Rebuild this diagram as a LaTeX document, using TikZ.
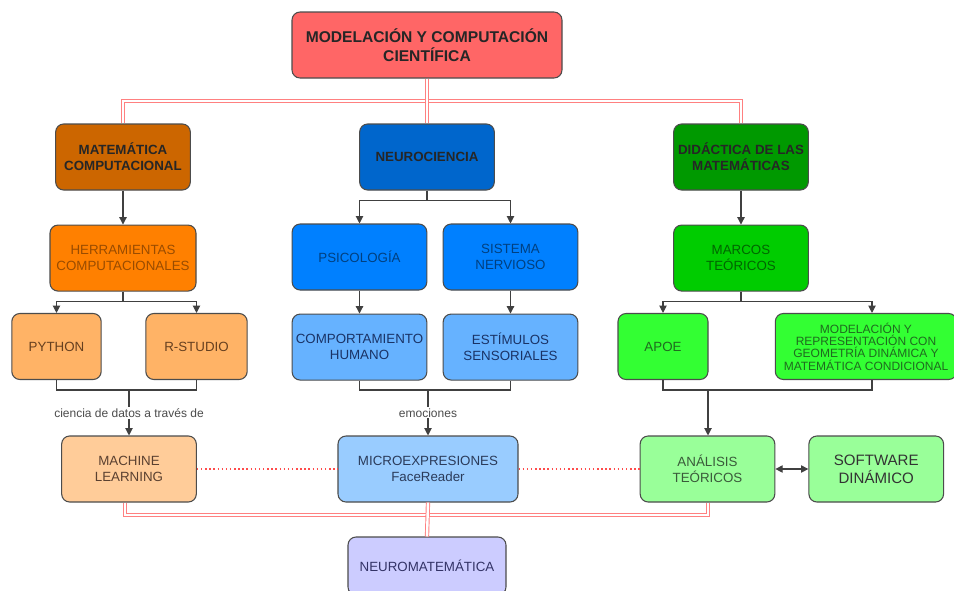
\documentclass[tikz,border=0pt]{standalone}
\usepackage{fontspec}
\setmainfont{Liberation Sans}
\usetikzlibrary{arrows.meta,calc}
\usetikzlibrary{positioning}

\definecolor{cTop}{HTML}{FF6666}
\definecolor{cMat}{HTML}{CC6600}
\definecolor{cNeu}{HTML}{0066CC}
\definecolor{cDid}{HTML}{009900}
\definecolor{cHer}{HTML}{FF8000}
\definecolor{cPsi}{HTML}{0080FF}
\definecolor{cMar}{HTML}{00CC00}
\definecolor{cPyt}{HTML}{FFB366}
\definecolor{cCom}{HTML}{66B2FF}
\definecolor{cApo}{HTML}{33FF33}
\definecolor{cMac}{HTML}{FFCC99}
\definecolor{cMic}{HTML}{99CCFF}
\definecolor{cAna}{HTML}{99FF99}
\definecolor{cNm}{HTML}{CCCCFF}
\definecolor{tHer}{HTML}{994C00}
\definecolor{tPsi}{HTML}{004080}
\definecolor{tMar}{HTML}{006600}
\definecolor{tPyt}{HTML}{664020}
\definecolor{tCom}{HTML}{1A3366}
\definecolor{tApo}{HTML}{1F6B1F}
\definecolor{tMac}{HTML}{5A4030}
\definecolor{tMic}{HTML}{2B3B5A}
\definecolor{tAna}{HTML}{3A5A3A}
\definecolor{tNm}{HTML}{333366}

\begin{document}
\begin{tikzpicture} [
    x=0.75pt, y=-0.75pt,
    box/.style={rectangle, rounded corners=6pt, draw=black!70, line width=0.8pt, align=center,
        minimum width=101pt, minimum height=49.5pt, inner sep=1pt, font=\fontsize{10}{12}\selectfont},
    head/.style={box, font=\bfseries\fontsize{10}{12}\selectfont, text=black!85},
    link/.style={draw=black!75, line width=0.8pt},
    redlink/.style={draw=red!50, double=white, double distance=1.8pt, line width=0.7pt},
    reddot/.style={draw=red!70, dotted, line width=1.1pt},
    tag/.style={midway, fill=white, font=\fontsize{9}{10}\selectfont, text=black!70, inner sep=1pt},
    >={Triangle[length=5.5pt,width=5.5pt]}
    ]
    \useasboundingbox[fill=white] (0,0) rectangle (954,590);

    %Nodes
    \node[head, fill=cTop, minimum width=202.5pt, font=\bfseries\fontsize{11.7}{14}\selectfont]
        (top) at (427,45) {MODELACIÓN Y COMPUTACIÓN\\CIENTÍFICA};
    \node[head, fill=cMat]   (mat)    at (123,157) {MATEMÁTICA\\COMPUTACIONAL};
    \node[head, fill=cNeu]   (neuro)  at (427,157) {NEUROCIENCIA};
    \node[head, fill=cDid]   (dida)   at (741,157) {DIDÁCTICA DE LAS\\MATEMÁTICAS};

    \node[box, fill=cHer, text=tHer, minimum width=109.5pt] (herr) [below=25.5pt of mat] {HERRAMIENTAS\\COMPUTACIONALES};
    \node[box, fill=cPsi, text=tPsi]  (psico)  at (359.5,257) {PSICOLOGÍA};
    \node[box, fill=cPsi, text=tPsi]  (sist)   at (510.5,257) {SISTEMA\\NERVIOSO};
    \node[box, fill=cMar, text=tMar]  (marcos) [below=25.5pt of dida] {MARCOS\\TEÓRICOS};

    \node[box, fill=cPyt, text=tPyt, minimum width=67pt] (python)  at (56.5,346.5) {PYTHON};
    \node[box, fill=cPyt, text=tPyt, minimum width=76pt] (rstudio) at (196.5,346.5) {R-STUDIO};
    \node[box, fill=cCom, text=tCom] (comp)  [below=17.25pt of psico] {COMPORTAMIENTO\\HUMANO};
    \node[box, fill=cCom, text=tCom] (estim) [below=17.25pt of sist] {ESTÍMULOS\\SENSORIALES};
    \node[box, fill=cApo, text=tApo, minimum width=67.5pt] (apoe) at (663,346.5) {APOE};
    \node[box, fill=cApo, text=tApo, minimum width=136pt, font=\fontsize{9}{9.3}\selectfont]
        (model) at (866,346.5) {MODELACIÓN Y\\REPRESENTACIÓN CON\\GEOMETRÍA DINÁMICA Y\\MATEMÁTICA CONDICIONAL};

    \node[box, fill=cMac, text=tMac] (ml)    at (129,469) {MACHINE\\LEARNING};
    \node[box, fill=cMic, text=tMic, minimum width=135pt] (micro) at (428,469) {MICROEXPRESIONES\\FaceReader};
    \node[box, fill=cAna, text=tAna] (anal)  at (707.5,469) {ANÁLISIS\\TEÓRICOS};
    \node[box, fill=cAna, text=black!80, font=\fontsize{11.3}{13.5}\selectfont] (soft) [right=24.75pt of anal] {SOFTWARE\\DINÁMICO};
    \node[box, fill=cNm, text=tNm, minimum width=118.5pt, minimum height=43.5pt] (nm) at (427,566) {NEUROMATEMÁTICA};

    %Joints
    \coordinate (j1) at (129,390);
    \coordinate (j2) at (428,390);
    \coordinate (j3) at (708,390);

    %Lines
    \draw[redlink] (mat.north) |- (427,101) -| (dida.north);
    \draw[redlink] (top.south) -- (neuro.north);
    \draw[redlink] (ml.south -| 125,0) |- (428,515) -| (anal.south -| 708,0);
    \draw[redlink] (micro.south) -- (nm.north);

    \draw[link, ->] (mat.south) -- (herr.north);
    \draw[link, ->] (herr.south) -- ++(0,10) -| (python.north);
    \draw[link, ->] (herr.south) -- ++(0,10) -| (rstudio.north);
    \draw[link, ->] (neuro.south) -- ++(0,10) -| (psico.north);
    \draw[link, ->] (neuro.south) -- ++(0,10) -| (sist.north);
    \draw[link, ->] (dida.south) -- (marcos.north);
    \draw[link, ->] (marcos.south) -- ++(0,10) -| (apoe.north);
    \draw[link, ->] (marcos.south) -- ++(0,10) -| (model.north -| 872,0);
    \draw[link, ->] (psico.south) -- (comp.north);
    \draw[link, ->] (sist.south) -- (estim.north);

    \draw[link] (python.south) |- (j1) -| (rstudio.south);
    \draw[link, ->] (j1) -- (j1 |- ml.north) node[tag] {ciencia de datos a través de};
    \draw[link] (comp.south) |- (j2) -| (estim.south);
    \draw[link, ->] (j2) -- (j2 |- micro.north) node[tag] {emociones};
    \draw[link] (apoe.south) |- (j3) -| (model.south -| 872,0);
    \draw[link, ->] (j3) -- (j3 |- anal.north);

    \draw[reddot] (ml.east) -- (micro.west);
    \draw[reddot] (micro.east) -- (anal.west);
    \draw[link, <->] (anal.east) -- (soft.west);

\end{tikzpicture}
\end{document}
